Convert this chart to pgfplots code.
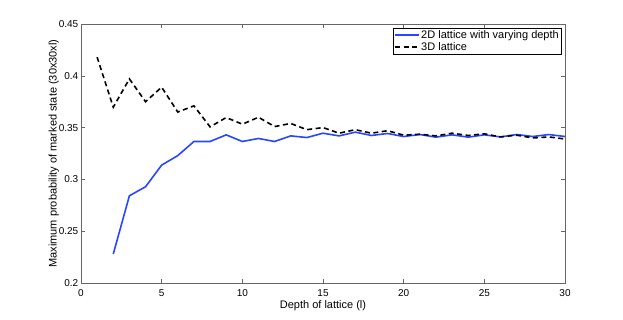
\documentclass[border=0pt]{standalone}
\usepackage{fontspec}
\setmainfont{Liberation Sans}
\usepackage{pgfplots}
\pgfplotsset{compat=1.18}
\definecolor{mblue}{RGB}{40,70,255}
\pgfplotsset{/pgfplots/legend image code/.code={\draw[#1] (0pt,0pt) -- (24pt,0pt);}}
\begin{document}
\begin{tikzpicture}
\begin{axis}[
  at={(0,0)}, anchor=south west,
  scale only axis, width=484pt, height=259pt,
  xmin=0, xmax=30, ymin=0.2, ymax=0.45,
  xtick={0,5,10,15,20,25,30},
  ytick={0.2,0.25,0.3,0.35,0.4,0.45},
  /pgf/number format/assume math mode=true,
  /pgf/number format/fixed, /pgf/number format/precision=2,
  tick label style={font=\fontsize{10}{12}\selectfont},
  xticklabel style={anchor=north, inner sep=0pt, yshift=-6pt},
  yticklabel style={anchor=east, inner sep=0pt, xshift=-2.5pt},
  axis line style={black!60, line width=0.6pt},
  major tick length=4pt,
  tick style={black!60, line width=0.5pt},
  xlabel={Depth of lattice (l)},
  ylabel={Maximum probability of marked state (30x30xl)},
  label style={font=\fontsize{11}{13}\selectfont},
  xlabel style={at={(axis description cs:0.5,0)}, anchor=base, yshift=-25pt, inner sep=0pt},
  ylabel style={at={(axis description cs:-0.0502,0.5)}, anchor=base, inner sep=0pt},
  legend style={at={(1,1)}, anchor=north east, xshift=-4pt, yshift=-4pt,
    inner xsep=1pt, inner ysep=1pt,
    nodes={inner sep=1pt, text depth=0.2em},
    cells={anchor=west}, font=\fontsize{11}{13}\selectfont, row sep=0pt},
]
\addplot[color=mblue, line width=1.6pt] coordinates {
(2,0.228) (3,0.2842) (4,0.2929) (5,0.3138) (6,0.323) (7,0.3366) (8,0.3366)
(9,0.343) (10,0.3366) (11,0.3395) (12,0.3366) (13,0.342) (14,0.3404)
(15,0.3446) (16,0.342) (17,0.3456) (18,0.3424) (19,0.3443) (20,0.3414)
(21,0.3433) (22,0.3408) (23,0.343) (24,0.3408) (25,0.343) (26,0.341)
(27,0.3433) (28,0.3414) (29,0.3433) (30,0.3414)
};
\addlegendentry{2D lattice with varying depth}
\addplot[color=black, line width=1.6pt, dash pattern=on 5pt off 3.5pt] coordinates {
(1,0.418) (2,0.3697) (3,0.397) (4,0.375) (5,0.389) (6,0.365) (7,0.371)
(8,0.3507) (9,0.3597) (10,0.3533) (11,0.36) (12,0.351) (13,0.354)
(14,0.348) (15,0.350) (16,0.3446) (17,0.348) (18,0.3446) (19,0.347)
(20,0.3427) (21,0.3436) (22,0.342) (23,0.3446) (24,0.3424) (25,0.344)
(26,0.341) (27,0.3427) (28,0.340) (29,0.341) (30,0.339)
};
\addlegendentry{3D lattice}
\end{axis}
\path[use as bounding box] (-81pt,-36pt) rectangle (542pt,283pt);
\end{tikzpicture}
\end{document}
